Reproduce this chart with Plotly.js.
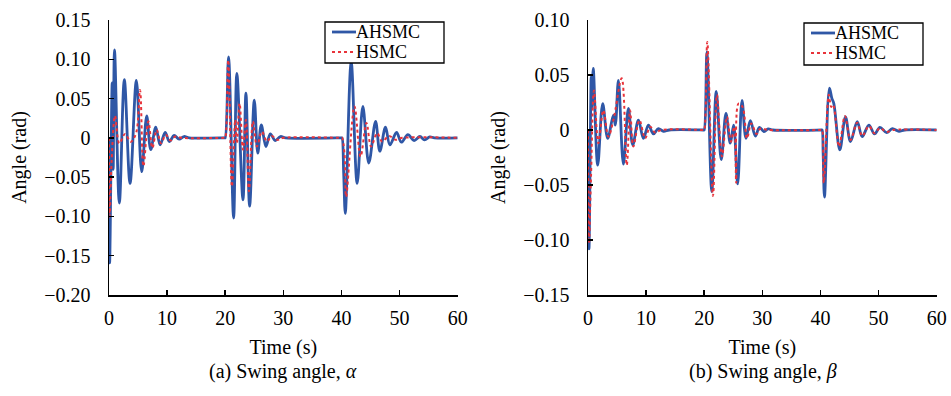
<!DOCTYPE html>
<html>
<head>
<meta charset="utf-8">
<script src="https://cdn.plot.ly/plotly-3.0.1.min.js"></script>
<style>html,body{margin:0;padding:0;background:#fff;}#chart{width:951px;height:396px;}</style>
</head>
<body>
<div id="chart"></div>
<script>
// ---------- data ----------
const seriesNames = ["AHSMC", "HSMC"];

// (a) swing angle alpha
const alphaAHSMC_t = [0,0.11,0.55,0.72,0.95,1.78,2.64,3.62,4.71,5.63,6.49,7.18,8.05,8.8,9.66,10.4,11.2,12.07,12.9,13.8,19.9,20.0,20.57,21.44,22.0,23.05,23.56,24.2,25.0,25.6,26.2,27.0,27.76,28.6,29.5,30.4,40.0,40.1,40.38,40.66,41.67,42.7,43.68,44.7,45.87,46.6,47.58,48.33,49.48,50.3,51.43,52.5,53.5,54.3,55.2,56.0,60];
const alphaAHSMC_v = [0,-0.159,0.07,-0.04,0.112,-0.083,0.074,-0.058,0.073,-0.043,0.028,-0.015,0.0136,-0.009,0.0068,-0.0047,0.003,-0.0017,0.0017,0,0,0,0.103,-0.102,0.082,-0.079,0.057,-0.087,0.048,-0.0195,0.0165,-0.011,0.005,-0.0034,0.0017,0,0,0,-0.045,-0.096,0.097,-0.058,0.04,-0.032,0.021,-0.017,0.0136,-0.009,0.0068,-0.0055,0.004,-0.0034,0.0017,-0.0025,0.0013,0,0];
const alphaHSMC_t = [0,0.11,0.46,1.03,1.78,2.76,3.74,4.66,5.34,5.92,6.78,7.47,8.2,8.97,9.77,10.6,11.4,12.5,19.9,20.0,20.52,21.15,21.72,22.0,22.47,23.05,23.56,24.08,24.77,25.46,26.3,27.2,28.0,28.9,30.0,40.0,40.1,40.52,40.8,42.24,43.28,44.3,45.1,46.15,47.0,48.2,49.3,50.5,60];
const alphaHSMC_v = [0,-0.1,-0.028,0.028,-0.007,0.005,-0.005,0.006,0.061,-0.036,0.021,-0.013,0.01,-0.007,0.004,-0.0034,0.0017,0,0,0,0.099,-0.062,0.023,-0.007,0.044,-0.015,0.023,-0.068,0.021,-0.011,0.008,-0.0047,0.0025,-0.0025,0,0,0,-0.0195,-0.075,0.04,-0.024,0.019,-0.011,0.006,-0.0047,0.0025,-0.0025,0,0];

// (b) swing angle beta
const betaAHSMC_t = [0,0.17,0.55,0.65,0.9,1.67,2.53,3.39,4.37,4.7,5.23,6.09,6.95,7.7,8.68,9.54,10.4,11.26,12.1,13.0,14.0,19.9,20.0,20.46,21.3,22.07,22.93,23.74,24.48,25.06,25.75,26.5,27.18,27.93,28.8,29.5,30.3,31.0,31.8,40.2,40.29,40.46,40.69,41.55,41.95,42.3,43.33,44.3,45.17,46.32,47.18,48.33,49.3,50.23,51.38,52.36,53.5,54.5,60];
const betaAHSMC_v = [0,-0.108,0.048,0.02,0.056,-0.032,0.024,-0.0076,0.0136,0.0045,0.045,-0.031,0.0197,-0.0136,0.009,-0.0076,0.0045,-0.0036,0.0012,-0.0012,0,0,0,0.071,-0.056,0.035,-0.027,0.015,-0.012,0.0045,-0.049,0.027,-0.0076,0.0085,-0.0055,0.0024,-0.0015,0.001,0,0,0,-0.021,-0.061,0.038,0.029,0.024,-0.018,0.012,-0.0106,0.0076,-0.006,0.0045,-0.0036,0.0024,-0.0024,0.0012,-0.0012,0,0];
const betaHSMC_t = [0,0.17,0.52,1.03,1.78,2.64,3.5,4.37,5.8,6.67,7.24,7.8,8.85,9.83,10.7,11.55,12.6,19.9,20.0,20.52,21.5,22.18,23.05,23.9,24.6,25.17,25.5,25.9,26.6,27.36,28.1,29.0,29.65,31.0,40.2,40.3,40.57,41.44,41.84,42.18,43.2,44.2,45.17,46.32,47.18,48.33,49.3,50.23,51.38,52.5,60];
const betaHSMC_v = [0,-0.103,-0.042,0.036,-0.012,0.018,-0.006,0.009,0.047,-0.032,0.018,-0.015,0.009,-0.0076,0.003,-0.0024,0,0,0,0.08,-0.06,0.032,-0.024,0.012,-0.0106,0.003,-0.048,0.024,0.021,-0.0076,0.006,-0.0036,0.0012,0,0,0,-0.048,0.032,0.021,0.023,-0.015,0.0127,-0.009,0.0067,-0.0055,0.0036,-0.003,0.0018,-0.0018,0,0];

const xTickVals = [0,10,20,30,40,50,60];
const xTickText = ["0","10","20","30","40","50","60"];
const yTickValsA = [0.15,0.10,0.05,0,-0.05,-0.10,-0.15,-0.20];
const yTickTextA = ["0.15","0.10","0.05","0","\u22120.05","\u22120.10","\u22120.15","\u22120.20"];
const yTickValsB = [0.10,0.05,0,-0.05,-0.10,-0.15];
const yTickTextB = ["0.10","0.05","0","\u22120.05","\u22120.10","\u22120.15"];
const xTitle = "Time (s)";
const yTitle = "Angle (rad)";
const captions = ["(a) Swing angle, <i>\u03b1</i>", "(b) Swing angle, <i>\u03b2</i>"];

// ---------- styling ----------
const W = 951, H = 396;
const FONT = "'Liberation Serif', 'Times New Roman', serif";
const BLUE = "#2f57a6";
const RED = "#e8333a";
const px = v => v / W;
const py = v => 1 - v / H;
const mkFont = (s) => ({family: FONT, size: s, color: "#000"});

const traces = [
  {x: alphaAHSMC_t, y: alphaAHSMC_v, name: seriesNames[0], mode: "lines", line: {color: BLUE, width: 2.8, shape: "spline", smoothing: 1}, xaxis: "x", yaxis: "y"},
  {x: alphaHSMC_t, y: alphaHSMC_v, name: seriesNames[1], mode: "lines", line: {color: RED, width: 2, dash: "dot", shape: "spline", smoothing: 1}, xaxis: "x", yaxis: "y"},
  {x: betaAHSMC_t, y: betaAHSMC_v, name: seriesNames[0], mode: "lines", line: {color: BLUE, width: 2.8, shape: "spline", smoothing: 1}, xaxis: "x2", yaxis: "y2"},
  {x: betaHSMC_t, y: betaHSMC_v, name: seriesNames[1], mode: "lines", line: {color: RED, width: 2, dash: "dot", shape: "spline", smoothing: 1}, xaxis: "x2", yaxis: "y2"}
];

function xAxis(domain, anchor) {
  return {
    domain: domain, anchor: anchor, range: [0, 60], tickvals: xTickVals, ticktext: xTickText,
    ticks: "inside", ticklen: 5, tickwidth: 1.5, tickcolor: "#000",
    showline: true, linecolor: "#000", linewidth: 1.5, showgrid: false, zeroline: false,
    tickfont: mkFont(20), ticklabelstandoff: 4,
    title: {text: xTitle, font: mkFont(20), standoff: 12},
    fixedrange: true
  };
}
function yAxis(domain, anchor, range, vals, text) {
  return {
    domain: domain, anchor: anchor, range: range, tickvals: vals, ticktext: text,
    ticks: "inside", ticklen: 5, tickwidth: 1.5, tickcolor: "#000",
    showline: true, linecolor: "#000", linewidth: 1.5, showgrid: false, zeroline: false,
    tickfont: mkFont(20), ticklabelstandoff: 13,
    title: {text: yTitle, font: mkFont(20), standoff: 12},
    fixedrange: true
  };
}

const yDom = [py(295), py(20)];

// legend drawn as shapes + text to match the compact reference box
function legendParts(x0, x1, y0, y1, lx0, lx1, ly1, ly2, tx) {
  const shapes = [
    {type: "rect", xref: "paper", yref: "paper", x0: px(x0), x1: px(x1), y0: py(y1), y1: py(y0),
     line: {color: "#000", width: 1.3}, fillcolor: "#fff"},
    {type: "line", xref: "paper", yref: "paper", x0: px(lx0), x1: px(lx1), y0: py(ly1), y1: py(ly1), line: {color: BLUE, width: 2.8}},
    {type: "line", xref: "paper", yref: "paper", x0: px(lx0), x1: px(lx1), y0: py(ly2), y1: py(ly2), line: {color: RED, width: 2, dash: "dot"}}
  ];
  const anns = [
    {xref: "paper", yref: "paper", x: px(tx), y: py(ly1), xanchor: "left", yanchor: "middle", text: seriesNames[0], showarrow: false, font: mkFont(18), borderpad: 0},
    {xref: "paper", yref: "paper", x: px(tx), y: py(ly2), xanchor: "left", yanchor: "middle", text: seriesNames[1], showarrow: false, font: mkFont(18), borderpad: 0}
  ];
  return {shapes, anns};
}
const legA = legendParts(325, 444, 22, 63, 332, 356, 32, 52, 355);
const legB = legendParts(804, 923, 23, 65, 811, 835, 33, 53, 834);

const layout = {
  width: W, height: H,
  margin: {l: 0, r: 0, t: 0, b: 0},
  paper_bgcolor: "#fff", plot_bgcolor: "#fff",
  showlegend: false,
  font: mkFont(20),
  xaxis: xAxis([px(109), px(457.7)], "y"),
  yaxis: yAxis(yDom, "x", [-0.2, 0.15], yTickValsA, yTickTextA),
  xaxis2: xAxis([px(588), px(936.7)], "y2"),
  yaxis2: yAxis(yDom, "x2", [-0.15, 0.10], yTickValsB, yTickTextB),
  shapes: legA.shapes.concat(legB.shapes),
  annotations: legA.anns.concat(legB.anns).concat([
    {xref: "paper", yref: "paper", x: px(283.3), y: py(371), xanchor: "center", yanchor: "middle", text: captions[0], showarrow: false, font: mkFont(20)},
    {xref: "paper", yref: "paper", x: px(763), y: py(371), xanchor: "center", yanchor: "middle", text: captions[1], showarrow: false, font: mkFont(20)}
  ])
};

Plotly.newPlot("chart", traces, layout, {staticPlot: true, displayModeBar: false});
</script>
</body>
</html>
